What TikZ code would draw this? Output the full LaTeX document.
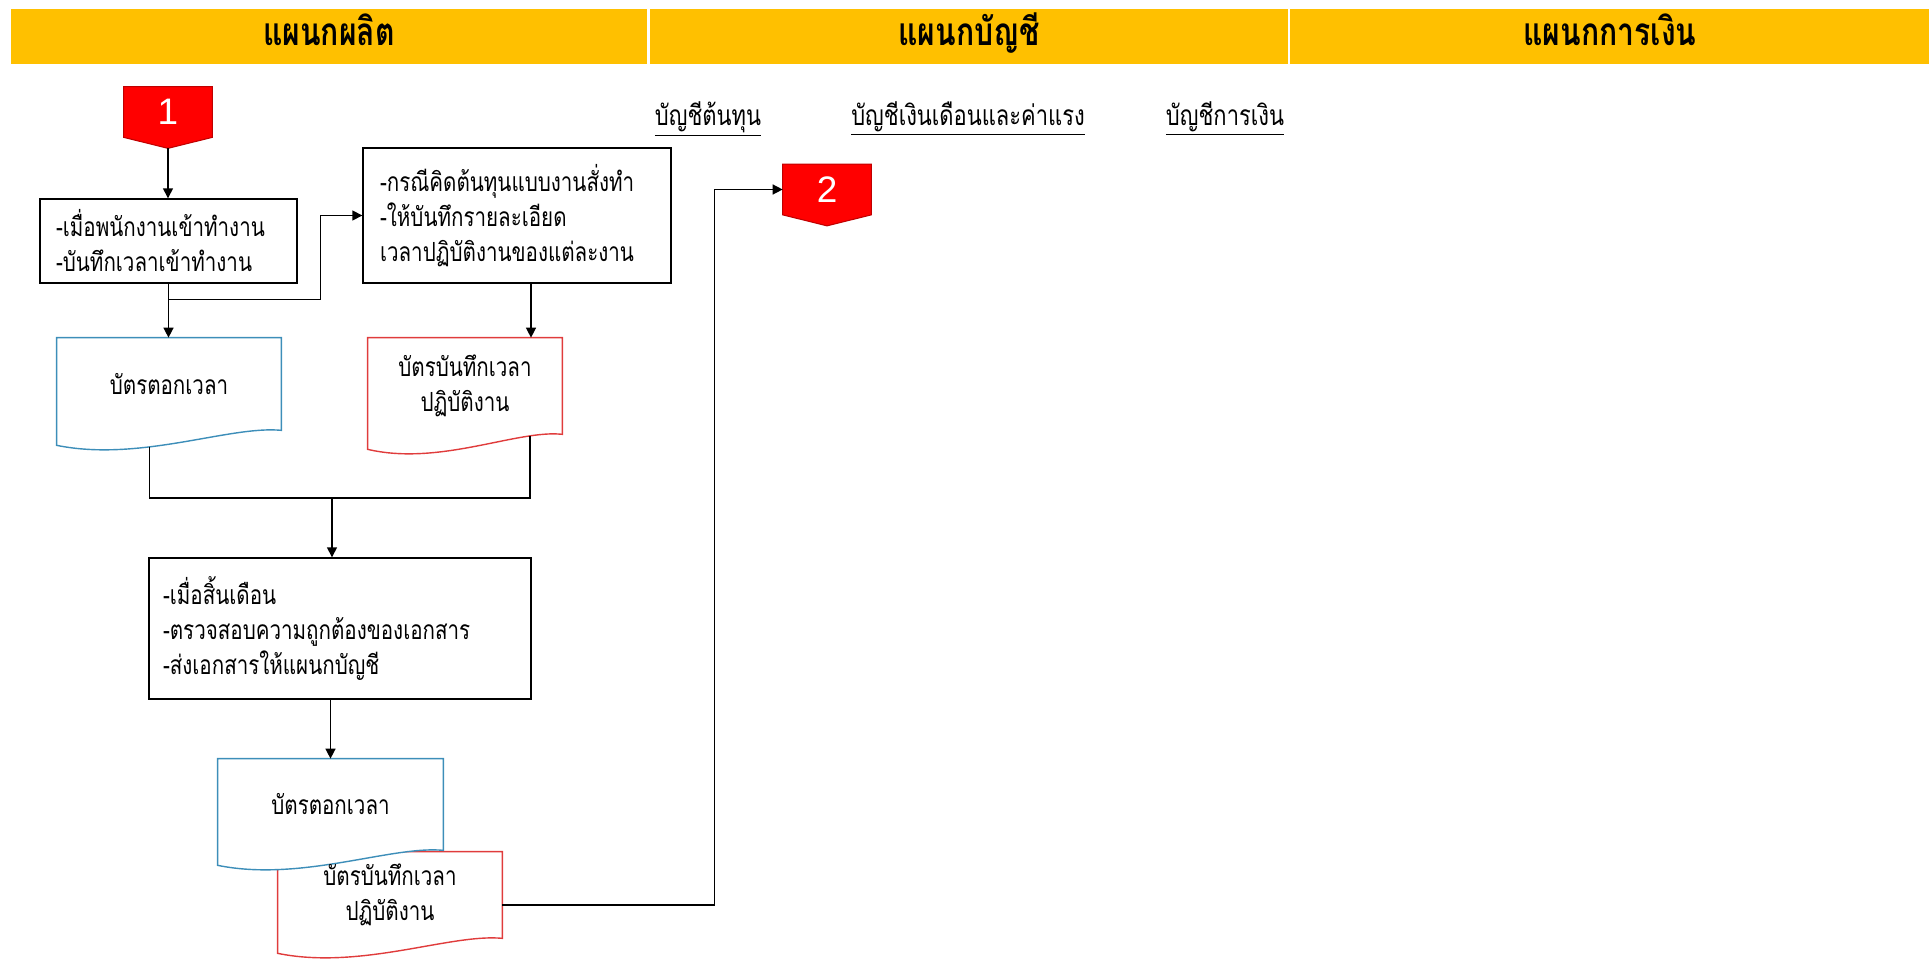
\documentclass[tikz,border=0pt]{standalone}
\usepackage{fontspec}
\setmainfont[Script=Thai,FakeStretch=0.78]{Loma}
\newfontfamily\numfont{Liberation Sans}
\usetikzlibrary{arrows.meta,positioning,calc,backgrounds}
\definecolor{lanegold}{HTML}{FFC000}
\definecolor{connred}{HTML}{FF0000}
\definecolor{connedge}{HTML}{C00000}
\definecolor{cardblue}{HTML}{3D8EB9}
\definecolor{cardred}{HTML}{E03C3C}
\tikzset{
  lanehead/.style={rectangle,fill=lanegold,draw=white,line width=0.6pt,
    minimum height=1.14cm,inner sep=0pt,text height=1.1em,text depth=0.13em,
    font=\fontsize{22}{24}\selectfont\bfseries},
  sublabel/.style={inner sep=0pt,text height=0.8em,text depth=0.35em,
    font=\fontsize{16}{18}\selectfont},
  procbox/.style={rectangle,draw=black,line width=0.8pt,fill=white,align=left,
    inner ysep=0pt,font=\fontsize{15}{19.9}\selectfont},
  cardnode/.style={rectangle,inner sep=0pt,align=center,
    font=\fontsize{15}{19.9}\selectfont},
  cardedge/.style={draw=#1,fill=white,line width=0.8pt},
  offpage/.style={rectangle,minimum width=1.76cm,minimum height=1cm,inner sep=0pt,
    text=white,font=\numfont\fontsize{21}{21}\selectfont},
  offpagefill/.style={fill=connred,draw=connedge,line width=0.6pt},
  arrow/.style={-{Triangle[length=2mm,width=2mm]},line width=0.8pt},
  link/.style={line width=0.8pt},
}
% document symbol drawn round a card node: name, colour, pos of the outlet
\newcommand{\cardoutline}[3]{%
  \filldraw[cardedge=#2] (#1.north west) -- (#1.north east) -- (#1.south east)
    .. controls ($(#1.south west)!0.77!(#1.south east)+(0,-5)$)
           and ($(#1.south west)!0.37!(#1.south east)+(0,32)$)
    .. ($(#1.south west)+(0,15)$) coordinate[pos=#3] (#1-out) -- cycle;}

\begin{document}
\begin{tikzpicture}[x=0.02cm,y=-0.02cm]
  \useasboundingbox (0,0) rectangle (1930,962);

  % lane headers
  \node[lanehead,minimum width=12.76cm] (hdprod) at (329,36.5) {แผนกผลิต};
  \node[lanehead,minimum width=12.8cm,right=0pt of hdprod] (hdacct) {แผนกบัญชี};
  \node[lanehead,minimum width=12.8cm,right=0pt of hdacct] (hdfin) {แผนกการเงิน};

  \node[sublabel] (subcost) at (708,122) {\underline{บัญชีต้นทุน}};
  \node[sublabel] (subwage) at (968,122) {\underline{บัญชีเงินเดือนและค่าแรง}};
  \node[sublabel] (subcash) at (1225,122) {\underline{บัญชีการเงิน}};

  % connectors 1 and 2
  \node[offpage] (one) at (168,112) {1};
  \node[offpage] (two) at (827,189.5) {2};
  \coordinate (onetip) at ($(one.south)+(0,11)$);
  \coordinate (twotip) at ($(two.south)+(0,11)$);

  % process boxes
  \node[procbox,text width=4.5cm,inner xsep=0.32cm,minimum height=1.68cm]
    (procA) at (168.5,241) {-เมื่อพนักงานเข้าทำงาน\\-บันทึกเวลาเข้าทำงาน};
  \node[procbox,text width=5.48cm,inner xsep=0.34cm,minimum height=2.7cm]
    (procB) at (517,215.5) {-กรณีคิดต้นทุนแบบงานสั่งทำ\\-ให้บันทึกรายละเอียด\\เวลาปฏิบัติงานของแต่ละงาน};
  \node[procbox,text width=7.08cm,inner xsep=0.28cm,minimum height=2.82cm]
    (procC) at (340,628.5) {-เมื่อสิ้นเดือน\\-ตรวจสอบความถูกต้องของเอกสาร\\-ส่งเอกสารให้แผนกบัญชี};

  % time cards
  \node[cardnode,minimum width=4.48cm,minimum height=1.84cm] (card1) at (169,384) {บัตรตอกเวลา};
  \node[cardnode,minimum width=3.88cm,minimum height=1.92cm] (card2) at (465,386) {บัตรบันทึกเวลา\\ปฏิบัติงาน};
  \node[cardnode,minimum width=4.5cm,minimum height=1.82cm] (card3) at (330.5,804.5) {บัตรตอกเวลา};
  \node[cardnode,minimum width=4.48cm,minimum height=1.72cm] (card4) at (390,895) {บัตรบันทึกเวลา\\ปฏิบัติงาน};

  \begin{scope}[on background layer]
    \filldraw[offpagefill] (one.north west) -- (one.north east) -- (one.south east)
      -- (onetip) -- (one.south west) -- cycle;
    \filldraw[offpagefill] (two.north west) -- (two.north east) -- (two.south east)
      -- (twotip) -- (two.south west) -- cycle;
    \cardoutline{card1}{cardblue}{0.63}
    \cardoutline{card2}{cardred}{0.21}
    \cardoutline{card4}{cardred}{0.5}
    \cardoutline{card3}{cardblue}{0.5}
  \end{scope}

  % flow
  \draw[arrow] (onetip) -- (onetip |- procA.north);
  \draw[arrow] (procA.south) -- (procA.south |- card1.north);
  \coordinate (forkA) at ($(procA.south)+(0,16)$);
  \draw[arrow] (forkA) -- ++(152,0) |- (procB.west);
  \coordinate (dropB) at ($(procB.south)+(14,0)$);
  \draw[arrow] (dropB) -- (dropB |- card2.north);

  \coordinate (merge) at (332,498);
  \draw[link] (card1-out) |- (merge) -| (card2-out);
  \draw[arrow] (merge) -- (merge |- procC.north);
  \draw[arrow] (procC.south -| card3.north) -- (card3.north);

  \coordinate (out4) at ($(card4.east)+(0,10)$);
  \coordinate (bendE) at ($(two.west)+(-68,0)$);
  \draw[arrow] (out4) -| (bendE) -- (two.west);
\end{tikzpicture}
\end{document}
